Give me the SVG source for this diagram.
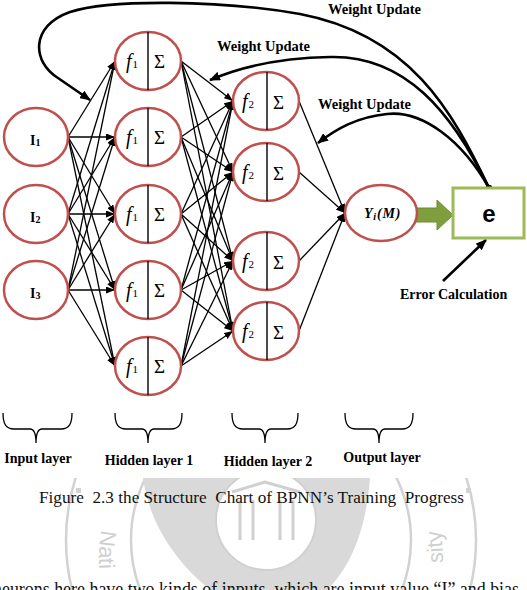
<svg xmlns="http://www.w3.org/2000/svg" width="527" height="590" viewBox="0 0 527 590">
<style>
.neuron{fill:#fff;stroke:#c0504d;stroke-width:2.5}
.div{stroke:#000;stroke-width:1.4}
.fn{font-family:"Liberation Serif",serif;font-style:italic;font-size:20px;fill:#000}
.sub{font-family:"Liberation Serif",serif;font-style:normal;font-size:11px}
.sig{font-family:"Liberation Serif",serif;font-size:19px;fill:#000}
.lbl{font-family:"Liberation Serif",serif;font-weight:bold;font-size:14px;fill:#000}
.wu{font-family:"Liberation Serif",serif;font-weight:bold;font-size:14.5px;fill:#000}
.conn{stroke:#000;stroke-width:1.3;fill:none;marker-end:url(#ah)}
.fb{stroke:#000;stroke-width:2.6;fill:none;marker-end:url(#ahb)}
.brace{stroke:#000;stroke-width:1.3;fill:none}
.wm{stroke:#d2d2d2;stroke-width:2.5;fill:none}
</style>
<defs>
<marker id="ah" markerUnits="userSpaceOnUse" markerWidth="9" markerHeight="7" refX="9" refY="3.5" orient="auto"><path d="M0,0 L9,3.5 L0,7 z" fill="#000"/></marker>
<marker id="ahb" markerUnits="userSpaceOnUse" markerWidth="11" markerHeight="9" refX="10" refY="4.5" orient="auto"><path d="M0,0 L11,4.5 L0,9 z" fill="#000"/></marker>
<clipPath id="wmclip"><rect x="0" y="478" width="527" height="112"/></clipPath>
<path id="ringText" d="M104,518 A172,172 0 1 0 438,518"/>
</defs>
<rect width="527" height="590" fill="#fff"/>

<!-- watermark -->
<g id="watermark" clip-path="url(#wmclip)">
<circle class="wm" cx="271" cy="540" r="205"/>
<circle class="wm" cx="271" cy="540" r="140" stroke-width="2"/>
<path d="M143,478 C150,530 185,575 225,600 L315,600 C350,575 366,530 370,478 Z" fill="#d9d9d9"/>
<circle cx="266" cy="520" r="50" fill="#fff" stroke="#d0d0d0" stroke-width="2"/>
<g stroke="#d0d0d0" stroke-width="3" fill="none">
<path d="M232,492 L265,482 L300,492"/>
<path d="M240,500 L240,540 M253,500 L253,540 M280,500 L280,540 M293,500 L293,540"/>
</g>
<rect x="76" y="488" width="5" height="5" fill="#d2d2d2"/>
<rect x="466" y="488" width="5" height="5" fill="#d2d2d2"/>
<text font-family="Liberation Sans,sans-serif" font-size="22" fill="#cfcfcf"><textPath href="#ringText" startOffset="2%">Nati</textPath></text>
<text font-family="Liberation Sans,sans-serif" font-size="22" fill="#cfcfcf" text-anchor="end"><textPath href="#ringText" startOffset="98%">sity</textPath></text>
</g>

<!-- connectors -->
<g id="connectors">
<g id="in-h1">
<line class="conn" x1="68" y1="137" x2="115" y2="61"/>
<line class="conn" x1="68" y1="137" x2="115" y2="137"/>
<line class="conn" x1="68" y1="137" x2="115" y2="214"/>
<line class="conn" x1="68" y1="137" x2="115" y2="290"/>
<line class="conn" x1="68" y1="137" x2="115" y2="366"/>
<line class="conn" x1="68" y1="214" x2="115" y2="61"/>
<line class="conn" x1="68" y1="214" x2="115" y2="137"/>
<line class="conn" x1="68" y1="214" x2="115" y2="214"/>
<line class="conn" x1="68" y1="214" x2="115" y2="290"/>
<line class="conn" x1="68" y1="214" x2="115" y2="366"/>
<line class="conn" x1="68" y1="290" x2="115" y2="61"/>
<line class="conn" x1="68" y1="290" x2="115" y2="137"/>
<line class="conn" x1="68" y1="290" x2="115" y2="214"/>
<line class="conn" x1="68" y1="290" x2="115" y2="290"/>
<line class="conn" x1="68" y1="290" x2="115" y2="366"/>
</g>
<g id="h1-h2">
<line class="conn" x1="181" y1="61" x2="233" y2="101"/>
<line class="conn" x1="181" y1="61" x2="233" y2="172"/>
<line class="conn" x1="181" y1="61" x2="233" y2="261"/>
<line class="conn" x1="181" y1="61" x2="233" y2="331"/>
<line class="conn" x1="181" y1="137" x2="233" y2="101"/>
<line class="conn" x1="181" y1="137" x2="233" y2="172"/>
<line class="conn" x1="181" y1="137" x2="233" y2="261"/>
<line class="conn" x1="181" y1="137" x2="233" y2="331"/>
<line class="conn" x1="181" y1="214" x2="233" y2="101"/>
<line class="conn" x1="181" y1="214" x2="233" y2="172"/>
<line class="conn" x1="181" y1="214" x2="233" y2="261"/>
<line class="conn" x1="181" y1="214" x2="233" y2="331"/>
<line class="conn" x1="181" y1="290" x2="233" y2="101"/>
<line class="conn" x1="181" y1="290" x2="233" y2="172"/>
<line class="conn" x1="181" y1="290" x2="233" y2="261"/>
<line class="conn" x1="181" y1="290" x2="233" y2="331"/>
<line class="conn" x1="181" y1="366" x2="233" y2="101"/>
<line class="conn" x1="181" y1="366" x2="233" y2="172"/>
<line class="conn" x1="181" y1="366" x2="233" y2="261"/>
<line class="conn" x1="181" y1="366" x2="233" y2="331"/>
</g>
<g id="h2-out">
<line class="conn" x1="299" y1="101" x2="345" y2="213"/>
<line class="conn" x1="299" y1="172" x2="345" y2="213"/>
<line class="conn" x1="299" y1="261" x2="345" y2="213"/>
<line class="conn" x1="299" y1="331" x2="345" y2="213"/>
</g>
<g id="feedback">
<path class="fb" d="M489,188 C452,110 410,35 300,14 C220,0 110,-1 70,12 C30,26 32,62 58,78 L90,100"/>
<path class="fb" d="M489,188 C452,112 405,55 330,57 C280,58 240,67 210,80"/>
<path class="fb" d="M489,188 C462,140 422,110 387,114 C357,117 336,129 318,143"/>
<circle cx="489" cy="188" r="3.2" fill="#000"/>
<line class="fb" x1="443" y1="281" x2="486" y2="240"/>
<path id="green-arrow" d="M416,208 L437,208 L437,200 L453,215 L437,230 L437,222 L416,222 Z" fill="#7f9f3e" stroke="#6c8a32" stroke-width="1"/>
</g>
</g>

<!-- input nodes -->
<g id="I1"><ellipse class="neuron" cx="36" cy="137" rx="32" ry="29"/><text class="lbl" x="30" y="145" font-size="15">I<tspan font-size="10" dy="1">1</tspan></text></g>
<g id="I2"><ellipse class="neuron" cx="36" cy="214" rx="32" ry="29"/><text class="lbl" x="30" y="222" font-size="15">I<tspan font-size="10" dy="1">2</tspan></text></g>
<g id="I3"><ellipse class="neuron" cx="36" cy="290" rx="32" ry="29"/><text class="lbl" x="30" y="298" font-size="15">I<tspan font-size="10" dy="1">3</tspan></text></g>

<!-- hidden layer 1 -->
<g id="H1-1"><ellipse class="neuron" cx="148" cy="61" rx="33" ry="29"/><line class="div" x1="148" y1="32" x2="148" y2="90"/><text class="fn" x="126" y="68">f<tspan class="sub" dx="1">1</tspan></text><text class="sig" x="154" y="68">Σ</text></g>
<g id="H1-2"><ellipse class="neuron" cx="148" cy="137" rx="33" ry="29"/><line class="div" x1="148" y1="108" x2="148" y2="166"/><text class="fn" x="126" y="144">f<tspan class="sub" dx="1">1</tspan></text><text class="sig" x="154" y="144">Σ</text></g>
<g id="H1-3"><ellipse class="neuron" cx="148" cy="214" rx="33" ry="29"/><line class="div" x1="148" y1="185" x2="148" y2="243"/><text class="fn" x="126" y="221">f<tspan class="sub" dx="1">1</tspan></text><text class="sig" x="154" y="221">Σ</text></g>
<g id="H1-4"><ellipse class="neuron" cx="148" cy="290" rx="33" ry="29"/><line class="div" x1="148" y1="261" x2="148" y2="319"/><text class="fn" x="126" y="297">f<tspan class="sub" dx="1">1</tspan></text><text class="sig" x="154" y="297">Σ</text></g>
<g id="H1-5"><ellipse class="neuron" cx="148" cy="366" rx="33" ry="29"/><line class="div" x1="148" y1="337" x2="148" y2="395"/><text class="fn" x="126" y="373">f<tspan class="sub" dx="1">1</tspan></text><text class="sig" x="154" y="373">Σ</text></g>

<!-- hidden layer 2 -->
<g id="H2-1"><ellipse class="neuron" cx="266" cy="101" rx="33" ry="29"/><line class="div" x1="267" y1="72" x2="267" y2="130"/><text class="fn" x="242" y="108">f<tspan class="sub" dx="1">2</tspan></text><text class="sig" x="273" y="109">Σ</text></g>
<g id="H2-2"><ellipse class="neuron" cx="266" cy="172" rx="33" ry="29"/><line class="div" x1="267" y1="143" x2="267" y2="201"/><text class="fn" x="242" y="179">f<tspan class="sub" dx="1">2</tspan></text><text class="sig" x="273" y="180">Σ</text></g>
<g id="H2-3"><ellipse class="neuron" cx="266" cy="261" rx="33" ry="29"/><line class="div" x1="267" y1="232" x2="267" y2="290"/><text class="fn" x="242" y="268">f<tspan class="sub" dx="1">2</tspan></text><text class="sig" x="273" y="269">Σ</text></g>
<g id="H2-4"><ellipse class="neuron" cx="266" cy="331" rx="33" ry="29"/><line class="div" x1="267" y1="302" x2="267" y2="360"/><text class="fn" x="242" y="338">f<tspan class="sub" dx="1">2</tspan></text><text class="sig" x="273" y="339">Σ</text></g>

<!-- output -->
<g id="output"><ellipse class="neuron" cx="381" cy="213" rx="36" ry="28"/><text x="364" y="218" font-family="Liberation Serif,serif" font-weight="bold" font-style="italic" font-size="14" letter-spacing="0.8">Y<tspan font-size="10" dy="2">i</tspan><tspan dy="-2">(M)</tspan></text></g>

<!-- error box -->
<g id="error"><rect x="453" y="188" width="71" height="50" fill="#fff" stroke="#9bbb59" stroke-width="3"/><text x="489" y="222" text-anchor="middle" font-family="Liberation Sans,sans-serif" font-weight="bold" font-size="24">e</text></g>

<!-- labels -->
<g id="labels">
<text class="wu" x="328" y="14">Weight Update</text>
<text class="wu" x="217" y="51">Weight Update</text>
<text class="wu" x="318" y="109">Weight Update</text>
<text class="lbl" x="400" y="299">Error Calculation</text>
</g>

<!-- braces -->
<g id="braces">
<path class="brace" d="M3,413 C3,424 6,429 14,429 L30,429 C34,429 36,433 36,443 C36,433 38,429 42,429 L61,429 C69,429 72,424 72,413"/>
<path class="brace" d="M115,413 C115,424 118,429 126,429 L142,429 C146,429 148,433 148,443 C148,433 150,429 154,429 L171,429 C179,429 182,424 182,413"/>
<path class="brace" d="M232,413 C232,424 235,429 243,429 L259,429 C263,429 265,433 265,443 C265,433 267,429 271,429 L287,429 C295,429 298,424 298,413"/>
<path class="brace" d="M345,413 C345,424 348,429 356,429 L373,429 C377,429 379,433 379,443 C379,433 381,429 385,429 L402,429 C410,429 413,424 413,413"/>
<text class="lbl" x="38" y="463" text-anchor="middle">Input layer</text>
<text class="lbl" x="149" y="465" text-anchor="middle">Hidden layer 1</text>
<text class="lbl" x="268" y="466" text-anchor="middle">Hidden layer 2</text>
<text class="lbl" x="382" y="462" text-anchor="middle">Output layer</text>
</g>

<text x="39" y="503" font-family="Liberation Serif,serif" font-size="17" fill="#111" xml:space="preserve" textLength="425" lengthAdjust="spacingAndGlyphs">Figure  2.3 the Structure  Chart of BPNN’s Training  Progress</text>
<text x="-7" y="596" font-family="Liberation Serif,serif" font-size="20" fill="#111" textLength="526" lengthAdjust="spacingAndGlyphs">neurons here have two kinds of inputs, which are input value “I” and bias</text>
</svg>
